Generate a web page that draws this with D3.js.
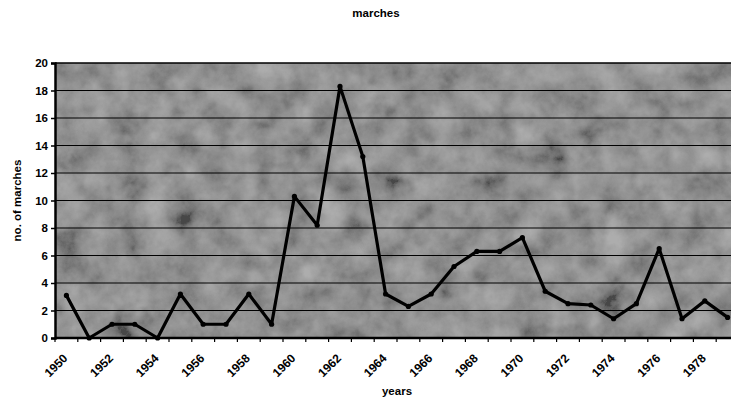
<!DOCTYPE html>
<html>
<head>
<meta charset="utf-8">
<script src="https://cdn.jsdelivr.net/npm/d3@7"></script>
<style>
  body { margin: 0; background: #fff; }
  svg { display: block; }
  text { font-family: "Liberation Sans", Arial, sans-serif; font-weight: bold; fill: #000; }
</style>
</head>
<body>
<svg id="chart" width="731" height="404"></svg>
<script>
// marches per year
const years = d3.range(1950, 1980)
const marches = [3.1, 0, 1, 1, 0, 3.2, 1, 1, 3.2, 1,
                 10.3, 8.2, 18.3, 13.2, 3.2, 2.3, 3.2, 5.2, 6.3, 6.3,
                 7.3, 3.4, 2.5, 2.4, 1.4, 2.5, 6.5, 1.4, 2.7, 1.5]
const yTicks = [0, 2, 4, 6, 8, 10, 12, 14, 16, 18, 20]
const xTickLabels = years.filter(y => y % 2 === 0)

const data = years.map((y, i) => ({year: y, value: marches[i]}))

let margin = ({top: 63, left: 55, bottom: 338})
let plotRight = 739

const svg = d3.select("#chart")

let x = d3.scaleBand()
    .domain(years)
    .range([margin.left, plotRight])
let y = d3.scaleLinear()
    .domain([0, 20])
    .range([margin.bottom, margin.top])

// granite-ish texture for the plot background
const defs = svg.append("defs")
const filt = defs.append("filter").attr("id", "granite")
    .attr("x", 0).attr("y", 0).attr("width", 1).attr("height", 1)
filt.append("feTurbulence")
    .attr("type", "fractalNoise")
    .attr("baseFrequency", 0.035)
    .attr("numOctaves", 6)
    .attr("seed", 7)
filt.append("feColorMatrix")
    .attr("type", "matrix")
    .attr("values", "0.33 0.33 0.33 0 0  0.33 0.33 0.33 0 0  0.33 0.33 0.33 0 0  0 0 0 0 1")
filt.append("feComponentTransfer")
    .call(g => ["R", "G", "B"].forEach(c => g.append("feFunc" + c)
        .attr("type", "linear").attr("slope", 2.2).attr("intercept", -0.6)))

svg.append("rect")
    .attr("x", margin.left).attr("y", margin.top)
    .attr("width", plotRight - margin.left)
    .attr("height", margin.bottom - margin.top)
    .attr("fill", "#777")
svg.append("rect")
    .attr("x", margin.left).attr("y", margin.top)
    .attr("width", plotRight - margin.left)
    .attr("height", margin.bottom - margin.top)
    .attr("filter", "url(#granite)")
    .attr("opacity", 0.4)

// gridlines
svg.append("g")
    .selectAll("line")
    .data(yTicks.filter(d => d > 0))
    .join("line")
    .attr("x1", margin.left).attr("x2", plotRight)
    .attr("y1", d => y(d)).attr("y2", d => y(d))
    .attr("stroke", "#000")
    .attr("stroke-width", 1.2)

// y axis
svg.append("g")
    .attr("transform", `translate(${margin.left},0)`)
    .call(d3.axisLeft(y).tickValues(yTicks).tickSize(4).tickPadding(3))
    .call(g => g.select(".domain").attr("stroke-width", 2.5))
    .call(g => g.selectAll(".tick line").attr("stroke-width", 1.5))
    .call(g => g.selectAll(".tick text")
        .attr("font-size", 11.5)
        .style("font-family", "'Liberation Sans', Arial, sans-serif")
        .style("font-weight", "bold"))

// x axis: ticks at category boundaries
svg.append("line")
    .attr("x1", margin.left).attr("x2", plotRight)
    .attr("y1", margin.bottom).attr("y2", margin.bottom)
    .attr("stroke", "#000").attr("stroke-width", 2.5)
svg.append("g")
    .selectAll("line")
    .data(years)
    .join("line")
    .attr("x1", d => x(d)).attr("x2", d => x(d))
    .attr("y1", margin.bottom).attr("y2", margin.bottom + 4)
    .attr("stroke", "#000").attr("stroke-width", 1.2)

svg.append("g")
    .selectAll("text")
    .data(xTickLabels)
    .join("text")
    .attr("transform", d => `translate(${x(d) + x.bandwidth() / 2 - 4},${margin.bottom + 15}) rotate(-45)`)
    .attr("text-anchor", "end")
    .attr("dy", "0.7em")
    .attr("font-size", 12)
    .text(d => d)

// top border
svg.append("line")
    .attr("x1", margin.left).attr("x2", plotRight)
    .attr("y1", margin.top).attr("y2", margin.top)
    .attr("stroke", "#000").attr("stroke-width", 1.2)

// the line
let line = d3.line()
    .x(d => x(d.year) + x.bandwidth() / 2)
    .y(d => y(d.value))
svg.append("path")
    .datum(data)
    .attr("fill", "none")
    .attr("stroke", "#000")
    .attr("stroke-width", 3.2)
    .attr("stroke-linejoin", "round")
    .attr("d", line)
svg.append("g")
    .selectAll("circle")
    .data(data)
    .join("circle")
    .attr("cx", d => x(d.year) + x.bandwidth() / 2)
    .attr("cy", d => y(d.value))
    .attr("r", 2.6)
    .attr("fill", "#000")

// titles
svg.append("text")
    .attr("x", 376).attr("y", 17)
    .attr("text-anchor", "middle")
    .attr("font-size", 11.5)
    .text("marches")
svg.append("text")
    .attr("x", (margin.left + plotRight) / 2).attr("y", 395)
    .attr("text-anchor", "middle")
    .attr("font-size", 11.5)
    .text("years")
svg.append("text")
    .attr("transform", `translate(21,${(margin.top + margin.bottom) / 2}) rotate(-90)`)
    .attr("text-anchor", "middle")
    .attr("font-size", 11.5)
    .text("no. of marches")
</script>
</body>
</html>
